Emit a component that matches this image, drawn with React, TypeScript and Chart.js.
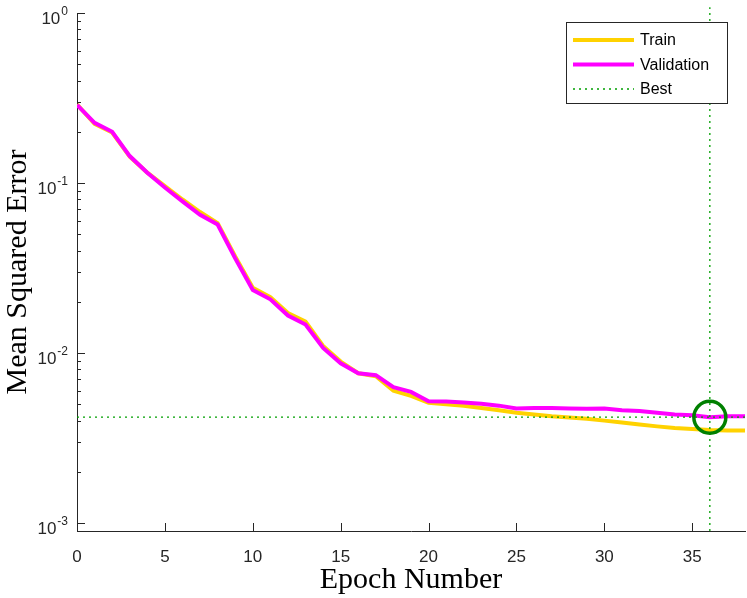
import React, { useEffect, useRef } from "react";
import Chart from "chart.js/auto";

const epochs = [
  0, 1, 2, 3, 4, 5, 6, 7, 8, 9, 10, 11, 12, 13, 14, 15, 16, 17, 18, 19, 20,
  21, 22, 23, 24, 25, 26, 27, 28, 29, 30, 31, 32, 33, 34, 35, 36, 37, 38,
];
const trainMse = [
  0.29, 0.223, 0.198, 0.143, 0.115, 0.096, 0.08, 0.0675, 0.058, 0.037, 0.0242,
  0.0213, 0.0172, 0.0153, 0.011, 0.0089, 0.0076, 0.0073, 0.006, 0.0056, 0.0051,
  0.005, 0.0049, 0.00475, 0.0046, 0.00445, 0.00435, 0.00425, 0.00418, 0.0041,
  0.004, 0.0039, 0.0038, 0.0037, 0.00362, 0.00357, 0.00352, 0.0035, 0.0035,
];
const validationMse = [
  0.288, 0.226, 0.2, 0.144, 0.115, 0.094, 0.078, 0.065, 0.057, 0.036, 0.0235,
  0.0207, 0.0166, 0.0147, 0.0107, 0.0087, 0.0076, 0.0074, 0.0063, 0.0059,
  0.0052, 0.00518, 0.00512, 0.00502, 0.0049, 0.00472, 0.00475, 0.00475,
  0.00472, 0.0047, 0.00472, 0.0046, 0.00455, 0.00445, 0.00435, 0.0043, 0.00419,
  0.00425, 0.00425,
];
const bestEpoch = 36;
const xTicks = [0, 5, 10, 15, 20, 25, 30, 35];
const yDecades = [0.001, 0.01, 0.1, 1];
const yExponents = ["-3", "-2", "-1", "0"];
const xMin = 0;
const xMax = 38;
const yMin = 0.000897;
const yMax = 1;

const AXIS = "#262626";
const GREEN = "#008000";
const DOTS = "#00a000";
const SANS = '"Liberation Sans", Arial, sans-serif';
const SERIF = '"Liberation Serif", "Times New Roman", serif';

const yMinor: number[] = [];
yDecades.slice(0, -1).forEach((d) => {
  for (let m = 2; m <= 9; m++) yMinor.push(d * m);
});

// MATLAB-style ticks pointing into the plot, plus 10^n labels with a real superscript
const innerTicks = {
  id: "innerTicks",
  afterDraw(chart: any) {
    const { ctx, chartArea, scales } = chart;
    ctx.save();
    ctx.strokeStyle = AXIS;
    ctx.lineWidth = 1;
    ctx.beginPath();
    xTicks.forEach((v) => {
      const x = Math.round(scales.x.getPixelForValue(v)) + 0.5;
      ctx.moveTo(x, chartArea.bottom);
      ctx.lineTo(x, chartArea.bottom - 8);
    });
    yDecades.forEach((v) => {
      const y = Math.round(scales.y.getPixelForValue(v)) + 0.5;
      ctx.moveTo(chartArea.left, y);
      ctx.lineTo(chartArea.left + 8, y);
    });
    yMinor.forEach((v) => {
      const y = Math.round(scales.y.getPixelForValue(v)) + 0.5;
      ctx.moveTo(chartArea.left, y);
      ctx.lineTo(chartArea.left + 4, y);
    });
    ctx.stroke();

    ctx.fillStyle = AXIS;
    ctx.textBaseline = "alphabetic";
    ctx.textAlign = "left";
    yDecades.forEach((v, i) => {
      const y = scales.y.getPixelForValue(v);
      ctx.font = `12px ${SANS}`;
      const ew = ctx.measureText(yExponents[i]).width;
      ctx.font = `17px ${SANS}`;
      const bw = ctx.measureText("10").width;
      const right = chartArea.left - 9;
      const x0 = right - ew - bw - 1;
      ctx.fillText("10", x0, y + 11);
      ctx.font = `12px ${SANS}`;
      ctx.fillText(yExponents[i], x0 + bw + 1, y + 2);
    });
    ctx.restore();
  },
};

const boxLegend = {
  id: "boxLegend",
  afterDraw(chart: any) {
    const { ctx } = chart;
    const items = chart.data.datasets.filter((d: any) => d.showInLegend);
    items.sort((a: any, b: any) => a.legendIndex - b.legendIndex);
    const left = 566;
    const top = 22;
    const w = 161;
    const h = 81;
    ctx.save();
    ctx.fillStyle = "#fff";
    ctx.fillRect(left, top, w, h);
    ctx.strokeStyle = "#262626";
    ctx.lineWidth = 1;
    ctx.strokeRect(left + 0.5, top + 0.5, w, h);
    ctx.font = `16px ${SANS}`;
    ctx.textBaseline = "middle";
    items.forEach((d: any, i: number) => {
      const y = top + 18 + i * 24.5;
      ctx.beginPath();
      ctx.strokeStyle = d.borderColor;
      ctx.lineWidth = d.borderWidth;
      ctx.setLineDash(d.borderDash || []);
      ctx.moveTo(left + 7, y);
      ctx.lineTo(left + 68, y);
      ctx.stroke();
      ctx.setLineDash([]);
      ctx.fillStyle = "#000";
      ctx.fillText(d.label, left + 74, y + 1);
    });
    ctx.restore();
  },
};

export default function App() {
  const canvasRef = useRef<HTMLCanvasElement>(null);

  useEffect(() => {
    if (!canvasRef.current) return;
    const bestMse = validationMse[epochs.indexOf(bestEpoch)];

    const chart = new Chart(canvasRef.current, {
      type: "line",
      data: {
        datasets: [
          {
            label: "BestPoint",
            data: [{ x: bestEpoch, y: bestMse }],
            showLine: false,
            pointRadius: 16,
            pointBorderWidth: 3.5,
            pointBorderColor: GREEN,
            pointBackgroundColor: "rgba(0,0,0,0)",
            borderColor: GREEN,
          },
          {
            label: "BestVertical",
            data: [
              { x: bestEpoch, y: yMin },
              { x: bestEpoch, y: 1.08 },
            ],
            borderColor: DOTS,
            borderWidth: 1.3,
            borderDash: [2, 4],
            pointRadius: 0,
            clip: false,
          },
          {
            label: "Best",
            showInLegend: true,
            legendIndex: 2,
            data: [
              { x: xMin, y: bestMse },
              { x: xMax, y: bestMse },
            ],
            borderColor: DOTS,
            borderWidth: 1.3,
            borderDash: [2, 4],
            pointRadius: 0,
          },
          {
            label: "Validation",
            showInLegend: true,
            legendIndex: 1,
            data: epochs.map((e, i) => ({ x: e, y: validationMse[i] })),
            borderColor: "#FF00FF",
            borderWidth: 4,
            pointRadius: 0,
            tension: 0,
          },
          {
            label: "Train",
            showInLegend: true,
            legendIndex: 0,
            data: epochs.map((e, i) => ({ x: e, y: trainMse[i] })),
            borderColor: "#FFD200",
            borderWidth: 4,
            pointRadius: 0,
            tension: 0,
          },
        ] as any,
      },
      options: {
        animation: false,
        responsive: true,
        maintainAspectRatio: false,
        layout: {
          autoPadding: false,
          padding: { top: 13, right: 2, left: 0, bottom: 0 },
        },
        plugins: {
          legend: { display: false },
          tooltip: { enabled: false },
        },
        scales: {
          x: {
            type: "linear",
            min: xMin,
            max: xMax,
            afterBuildTicks: (scale: any) => {
              scale.ticks = xTicks.map((v) => ({ value: v }));
            },
            afterFit: (scale: any) => {
              scale.height = 67;
              scale.paddingLeft = 0;
              scale.paddingRight = 0;
            },
            grid: { display: false, drawTicks: false },
            border: { display: true, color: AXIS, width: 1 },
            ticks: {
              padding: 16,
              color: AXIS,
              font: { family: SANS, size: 17 },
              maxRotation: 0,
            },
            title: {
              display: true,
              text: "Epoch Number",
              color: "#000",
              padding: { top: 0, bottom: 0 },
              font: { family: SERIF, size: 30 },
            },
          },
          y: {
            type: "logarithmic",
            min: yMin,
            max: yMax,
            afterBuildTicks: (scale: any) => {
              scale.ticks = yDecades.map((v) => ({ value: v }));
            },
            afterFit: (scale: any) => {
              scale.width = 77;
              scale.paddingTop = 0;
              scale.paddingBottom = 0;
            },
            grid: { display: false, drawTicks: false },
            border: { display: true, color: AXIS, width: 1 },
            ticks: {
              padding: 9,
              // labels are drawn by the innerTicks plugin with a proper superscript
              callback: () => "",
            },
            title: {
              display: true,
              text: "Mean Squared Error",
              color: "#000",
              padding: { top: 0, bottom: 0 },
              font: { family: SERIF, size: 30 },
            },
          },
        },
      },
      plugins: [innerTicks, boxLegend],
    });

    return () => chart.destroy();
  }, []);

  return (
    <div
      style={{
        position: "absolute",
        left: 0,
        top: 0,
        width: 747,
        height: 598,
        background: "#fff",
      }}
    >
      <canvas ref={canvasRef} />
    </div>
  );
}
